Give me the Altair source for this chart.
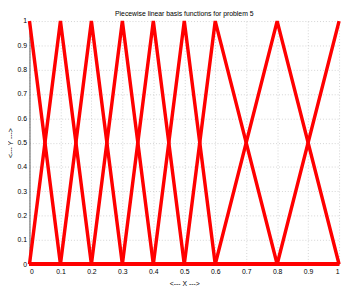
import altair as alt
import pandas as pd

title_text = "Piecewise linear basis functions for problem 5"
nodes = [0.0, 0.1, 0.2, 0.3, 0.4, 0.5, 0.6, 0.8, 1.0]
x_ticks = [0, 0.1, 0.2, 0.3, 0.4, 0.5, 0.6, 0.7, 0.8, 0.9, 1.0]
y_ticks = [0, 0.1, 0.2, 0.3, 0.4, 0.5, 0.6, 0.7, 0.8, 0.9, 1.0]

rows = []
for i in range(len(nodes)):
    for j, xv in enumerate(nodes):
        rows.append({"basis": f"phi{i}", "x": xv, "y": 1.0 if i == j else 0.0, "order": j})
df = pd.DataFrame(rows)

font = "Liberation Sans"
W, H = 317, 249

lines = (
    alt.Chart(df)
    .mark_line(color="#ff0000", strokeWidth=3.5)
    .encode(
        x=alt.X("x:Q", scale=alt.Scale(domain=[0, 1], nice=False),
                axis=alt.Axis(values=x_ticks, title="<--- X --->", format="~g")),
        y=alt.Y("y:Q", scale=alt.Scale(domain=[0, 1], nice=False),
                axis=alt.Axis(values=y_ticks, title="<--- Y --->", format="~g")),
        detail="basis:N",
        order="order:Q",
    )
)

title = (
    alt.Chart(pd.DataFrame({"t": [title_text]}))
    .mark_text(font=font, fontSize=7, color="#000", baseline="middle", align="center")
    .encode(x=alt.value(W / 2), y=alt.value(-7), text="t:N")
)

chart = (
    alt.layer(lines, title)
    .properties(
        width=W,
        height=H,
        autosize=alt.AutoSizeParams(type="none"),
        padding={"left": 22, "top": 10, "right": 3, "bottom": 22},
    )
    .configure_view(stroke=None)
    .configure_axis(
        grid=True, gridColor="#c8c8c8", gridDash=[1, 2], gridWidth=0.8,
        ticks=False, domainColor="#555", domainWidth=1,
        labelFont=font, labelFontSize=7, labelColor="#000",
        titleFont=font, titleFontSize=7, titleFontWeight="normal", titleColor="#000",
        labelPadding=3,
    )
    .configure_axisX(titlePadding=5, labelPadding=4)
    .configure_axisY(titlePadding=4)
)

chart.save("out.html", embed_options={"renderer": "svg", "actions": False})
